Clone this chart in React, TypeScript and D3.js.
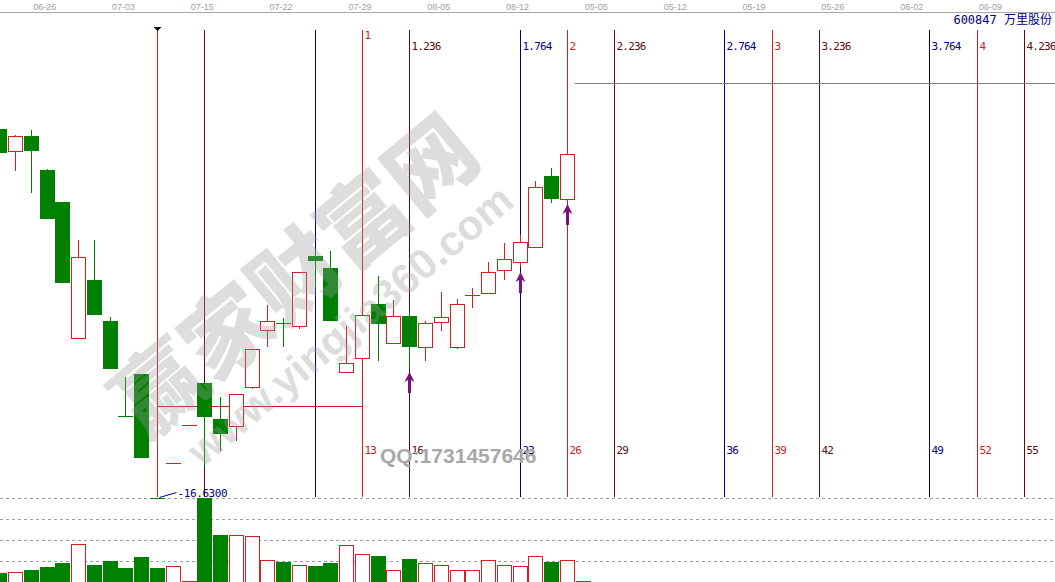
import React from 'react';
import * as d3 from 'd3';

const W = 1055;
const H = 582;

// bar index of each candle (0 = the swing low where the time zones start)
const barIndex = d3.range(-10, 27);
const opens = [25.84, 25.29, 25.67, 24.82, 24.02, 20.61, 22.07, 21.04, 18.67, 19.72, 16.63, 17.49, 18.44, 19.49, 18.59, 18.42, 19.40, 20.82, 21.00, 20.91, 22.67, 22.37, 19.76, 20.11, 21.47, 20.49, 21.17, 20.39, 21.01, 20.39, 21.70, 21.74, 22.31, 22.51, 22.89, 24.67, 24.09];
const highs = [25.84, 25.69, 25.82, 24.84, 24.02, 23.07, 23.07, 21.14, 19.64, 19.72, 16.63, 17.49, 18.44, 19.49, 19.15, 19.21, 20.34, 21.44, 21.11, 22.26, 22.82, 22.78, 20.92, 21.19, 22.17, 21.57, 21.26, 21.03, 21.77, 21.59, 21.86, 22.52, 22.99, 23.19, 24.54, 24.87, 25.34];
const lows = [25.25, 24.80, 24.25, 23.58, 22.00, 20.61, 21.18, 19.85, 18.67, 17.61, 16.63, 17.49, 18.44, 17.42, 17.80, 18.05, 19.34, 20.38, 20.38, 20.84, 21.88, 21.05, 19.76, 20.11, 20.03, 20.49, 19.88, 20.03, 20.80, 20.34, 21.36, 21.74, 22.06, 22.39, 22.89, 23.99, 24.09];
const closes = [25.25, 25.66, 25.30, 23.58, 22.00, 22.64, 21.18, 19.85, 18.67, 17.61, 16.63, 17.49, 18.44, 18.64, 18.21, 19.21, 20.34, 21.04, 20.99, 22.26, 22.54, 21.05, 19.99, 21.19, 20.96, 21.17, 20.39, 20.99, 21.14, 21.47, 21.70, 22.26, 22.59, 23.01, 24.39, 24.08, 25.21];
// volume for bars -10 .. 27
const volumes = [0.9, 1.0, 1.23, 1.5, 1.9, 3.77, 1.7, 2.1, 1.4, 2.5, 1.4, 1.57, 0.1, 8.43, 4.7, 4.7, 4.57, 2.17, 2.03, 1.67, 1.6, 1.93, 3.67, 2.77, 2.6, 1.17, 2.3, 1.87, 1.67, 1.17, 1.17, 2.17, 1.67, 1.57, 2.57, 2.03, 2.17, 0.1];

const dateLabels = ['06-26', '07-03', '07-15', '07-22', '07-29', '08-05', '08-12', '05-05', '05-12', '05-19', '05-26', '06-02', '06-09'];
const dateBars = [-7, -2, 3, 8, 13, 18, 23, 28, 33, 38, 43, 48, 53];

const fibBars = [0, 3, 10, 13, 16, 23, 26, 29, 36, 39, 42, 49, 52, 55];
const fibRatios = ['', '', '', '1', '1.236', '1.764', '2', '2.236', '2.764', '3', '3.236', '3.764', '4', '4.236'];
const fibCounts = ['', '', '', '13', '16', '23', '26', '29', '36', '39', '42', '49', '52', '55'];
const fibKinds = ['r', 'm', 'n', 'r', 'm', 'n', 'r', 'm', 'n', 'r', 'm', 'n', 'r', 'm'];

const arrowBars = [16, 23, 26];
const lowPrice = 16.63;
const supportPrice = 18.92;
const supportFrom = 0;
const supportTo = 13;
const targetPrice = 26.99;
const targetFrom = 26.5;

const RED = '#d42020';
const GREEN = '#008000';
const LINE_COLORS: Record<string, string> = { r: '#cc2020', m: '#5c0c0c', n: '#000080' };

const x = d3.scaleLinear().domain([0, 55]).range([157, 1024]);
const y = d3.scaleLinear().domain([16.63, 26.99]).range([497.5, 83]);
const yv = d3.scaleLinear().domain([0, 8.43]).range([582, 497.7]);

const px = (v: number) => Math.round(v) + 0.5;

function isUp(k: number): boolean {
  if (k >= opens.length) return true;
  if (closes[k] > opens[k]) return true;
  if (closes[k] < opens[k]) return false;
  return k > 0 ? closes[k] >= closes[k - 1] : true;
}

export default function App() {
  const candles = barIndex.map((b, k) => {
    const cx = Math.round(x(b));
    const up = isUp(k);
    const o = opens[k], c = closes[k], h = highs[k], l = lows[k];
    const yTop = Math.round(y(Math.max(o, c)));
    const yBot = Math.round(y(Math.min(o, c)));
    const yH = Math.round(y(h));
    const yL = Math.round(y(l));
    const col = up ? RED : GREEN;
    const els: React.ReactNode[] = [];
    if (yBot - yTop < 1) {
      if (yH < yTop) els.push(<line key="w1" x1={cx + 0.5} x2={cx + 0.5} y1={yH} y2={yTop} stroke={col} />);
      if (yL > yTop) els.push(<line key="w2" x1={cx + 0.5} x2={cx + 0.5} y1={yTop} y2={yL} stroke={col} />);
      els.push(<line key="d" x1={cx - 7} x2={cx + 8} y1={yTop + 0.5} y2={yTop + 0.5} stroke={col} />);
    } else if (up) {
      if (yH < yTop) els.push(<line key="w1" x1={cx + 0.5} x2={cx + 0.5} y1={yH} y2={yTop} stroke={col} />);
      if (yL > yBot) els.push(<line key="w2" x1={cx + 0.5} x2={cx + 0.5} y1={yBot} y2={yL} stroke={col} />);
      els.push(<rect key="b" x={cx - 6.5} y={yTop + 0.5} width={14} height={yBot - yTop} fill="#fff" stroke={col} />);
    } else {
      els.push(<line key="w" x1={cx + 0.5} x2={cx + 0.5} y1={yH} y2={yL} stroke={col} />);
      els.push(<rect key="b" x={cx - 7} y={yTop} width={15} height={yBot - yTop} fill={col} />);
    }
    return <g key={b}>{els}</g>;
  });

  const volBars = volumes.map((v, k) => {
    const b = k - 10;
    const cx = Math.round(x(b));
    const up = isUp(k);
    const top = Math.round(yv(v));
    if (up) {
      return <rect key={b} x={cx - 6.5} y={top + 0.5} width={14} height={Math.max(0, 582 - top)} fill="#fff" stroke={RED} />;
    }
    return <rect key={b} x={cx - 7} y={top} width={15} height={582 - top} fill={GREEN} />;
  });

  const gridYs = [498, 519, 540, 561];
  const monoFont = '"DejaVu Sans Mono", "Liberation Mono", monospace';

  return (
    <svg width={W} height={H} style={{ position: 'absolute', left: 0, top: 0, display: 'block', background: '#fff' }}>
      <rect x={0} y={0} width={W} height={H} fill="#fff" />
      {/* top date axis */}
      <line x1={0} x2={W} y1={12.5} y2={12.5} stroke="#a8a8a8" />
      {dateLabels.map((t, i) => (
        <text key={t + i} x={x(dateBars[i]) - 2} y={10} fontSize={9} fill="#a0a0a0" textAnchor="middle" fontFamily="'Liberation Sans', Arial, sans-serif">{t}</text>
      ))}
      <text x={1052} y={24} fontSize={12} fill="#000080" textAnchor="end" fontFamily={'"DejaVu Sans Mono", "Noto Sans CJK SC", monospace'}>600847 万里股份</text>

      {/* volume grid */}
      {gridYs.map((gy) => (
        <line key={gy} x1={0} x2={W} y1={gy + 0.5} y2={gy + 0.5} stroke="#a0a0a0" strokeDasharray="3,3" />
      ))}

      {/* fibonacci time zones */}
      {fibBars.map((b, i) => {
        const lx = px(x(b));
        const col = LINE_COLORS[fibKinds[i]];
        return (
          <g key={b}>
            <line x1={lx} x2={lx} y1={30} y2={497} stroke={col} />
            {fibRatios[i] && (
              <text x={lx + 2} y={fibRatios[i] === '1' ? 39 : 50} fontSize={11} letterSpacing={-0.8} fill={col} fontFamily={monoFont}>{fibRatios[i]}</text>
            )}
            {fibCounts[i] && (
              <text x={lx + 2} y={454} fontSize={11} letterSpacing={-0.8} fill={col} fontFamily={monoFont}>{fibCounts[i]}</text>
            )}
          </g>
        );
      })}
      <path d={`M${px(x(0)) - 4},27 L${px(x(0)) + 4},27 L${px(x(0))},31 Z`} fill="#000" />

      {/* support line and target line */}
      <line x1={px(x(supportFrom))} x2={px(x(supportTo))} y1={px(y(supportPrice))} y2={px(y(supportPrice))} stroke="#cc2020" />
      <line x1={x(targetFrom)} x2={W} y1={px(y(targetPrice))} y2={px(y(targetPrice))} stroke="#808080" />

      {/* candles */}
      {candles}

      {/* arrows */}
      {arrowBars.map((b) => {
        const k = b + 10;
        const cx = Math.round(x(b)) + 0.5;
        const t = Math.round(y(lows[k])) + 5;
        return (
          <path key={b} d={`M${cx},${t} L${cx + 5},${t + 10} L${cx + 1.5},${t + 8} L${cx + 1.5},${t + 21} L${cx - 1.5},${t + 21} L${cx - 1.5},${t + 8} L${cx - 5},${t + 10} Z`} fill="#7a1080" />
        );
      })}

      {/* low marker */}
      <line x1={px(x(0)) + 2} x2={px(x(0)) + 19} y1={y(lowPrice)} y2={y(lowPrice) - 5} stroke="#000080" />
      <text x={px(x(0)) + 20} y={y(lowPrice) - 0.5} fontSize={11} letterSpacing={-0.4} fill="#000080" fontFamily={monoFont}>-16.6300</text>

      {/* volume */}
      {volBars}

      {/* watermark */}
      <g opacity={0.33} fill="#9a9a9a" pointerEvents="none">
        <text transform="translate(291,271) rotate(-39.6)" textAnchor="middle" dominantBaseline="central" fontSize={88} fontWeight={900} fontFamily='"Noto Sans CJK SC", sans-serif'>赢家财富网</text>
        <text transform="translate(350,325) rotate(-40)" textAnchor="middle" dominantBaseline="central" fontSize={42} fontWeight={700} fontFamily="'Liberation Sans', Arial, sans-serif">www.yingjia360.com</text>
      </g>
      <text x={380} y={463} fontSize={21} fontWeight={700} fill="#a8a8a8" fontFamily="'Liberation Sans', Arial, sans-serif">QQ:1731457646</text>
    </svg>
  );
}
